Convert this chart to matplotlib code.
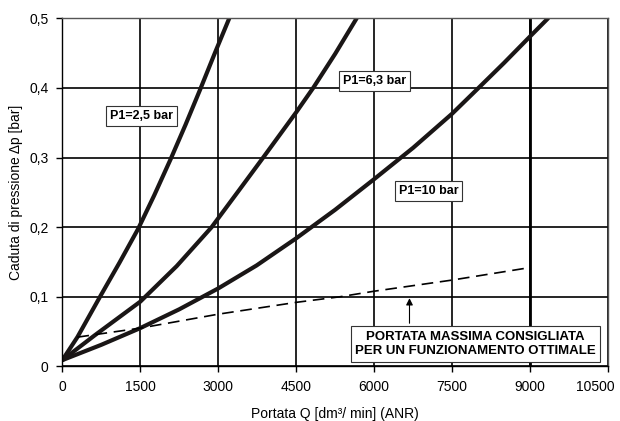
import matplotlib
matplotlib.use('Agg')
from matplotlib import pyplot as plt
from matplotlib.transforms import ScaledTranslation

plt.rcParams['font.family'] = ['Liberation Sans', 'DejaVu Sans']

# curves: portata Q [dm3/min] vs caduta di pressione [bar]
q_25 = [0, 290, 725, 1100, 1462, 1770, 2080, 2370, 2648, 2940, 3212]
dp_25 = [0.009, 0.042, 0.10, 0.149, 0.198, 0.246, 0.297, 0.347, 0.397, 0.451, 0.50]

q_63 = [0, 630, 1500, 2200, 2873, 3400, 3865, 4500, 4827, 5250, 5663]
dp_63 = [0.009, 0.045, 0.093, 0.144, 0.20, 0.253, 0.30, 0.365, 0.40, 0.449, 0.50]

q_10 = [0, 750, 1500, 2250, 3000, 3738, 4500, 5250, 6000, 6750, 7500, 7981, 8500, 9000, 9346]
dp_10 = [0.009, 0.031, 0.055, 0.082, 0.112, 0.145, 0.184, 0.225, 0.269, 0.314, 0.363, 0.398, 0.436, 0.474, 0.50]

# portata massima consigliata (dashed)
q_max = [290, 1500, 3000, 4500, 5340, 6000, 7500, 9000]
dp_max = [0.042, 0.055, 0.075, 0.092, 0.10, 0.108, 0.124, 0.142]

x_ticks = [0, 1500, 3000, 4500, 6000, 7500, 9000, 10500]
y_ticks = [0, 0.1, 0.2, 0.3, 0.4, 0.5]
y_labels = ['0', '0,1', '0,2', '0,3', '0,4', '0,5']

fig = plt.figure(figsize=(6.2, 4.21), dpi=100)
ax = fig.add_axes([0.1005, 0.1297, 0.8802, 0.8268])

ax.set_xlim(0, 10500)
ax.set_ylim(0, 0.5)
ax.set_xticks(x_ticks)
ax.set_xticklabels([str(v) for v in x_ticks])
ax.set_yticks(y_ticks)
ax.set_yticklabels(y_labels)
ax.tick_params(labelsize=10, length=4, width=1, color='black', pad=6)
# last label is pulled in so it stays inside the picture
last = ax.get_xticklabels()[-1]
last.set_transform(last.get_transform() + ScaledTranslation(-9 / 72, 0, fig.dpi_scale_trans))

ax.grid(True, color='black', lw=1.2)
ax.axvline(9000, color='black', lw=2)
for s in ax.spines.values():
    s.set_linewidth(1)
ax.spines['top'].set_color('#555555')
ax.spines['right'].set_color('#555555')
ax.set_axisbelow(True)

for q, dp in [(q_25, dp_25), (q_63, dp_63), (q_10, dp_10)]:
    ax.plot(q, dp, color='#1a1616', lw=3, solid_capstyle='round', solid_joinstyle='round')

ax.plot(q_max, dp_max, color='black', lw=1.2, dashes=(7, 4))

box = dict(boxstyle='square,pad=0.3', fc='white', ec='#333333', lw=0.8)
ax.text(1525, 0.36, 'P1=2,5 bar', fontsize=9, weight='bold', ha='center', va='center', bbox=box)
ax.text(6004, 0.41, 'P1=6,3 bar', fontsize=9, weight='bold', ha='center', va='center', bbox=box)
ax.text(7046, 0.252, 'P1=10 bar', fontsize=9, weight='bold', ha='center', va='center', bbox=box)
ax.text(7950, 0.032, 'PORTATA MASSIMA CONSIGLIATA\nPER UN FUNZIONAMENTO OTTIMALE',
        fontsize=9.5, weight='bold', ha='center', va='center', linespacing=1.25,
        bbox=dict(boxstyle='square,pad=0.35', fc='white', ec='#333333', lw=0.8))
ax.annotate('', xy=(6680, 0.102), xytext=(6680, 0.058),
            arrowprops=dict(arrowstyle='-|>', color='black', lw=0.8, mutation_scale=10))

ax.set_xlabel('Portata Q [dm³/ min] (ANR)', fontsize=10, labelpad=9)
ax.set_ylabel('Caduta di pressione Δp [bar]', fontsize=10, labelpad=4)

fig.savefig('out.png', dpi=100, facecolor='white')
